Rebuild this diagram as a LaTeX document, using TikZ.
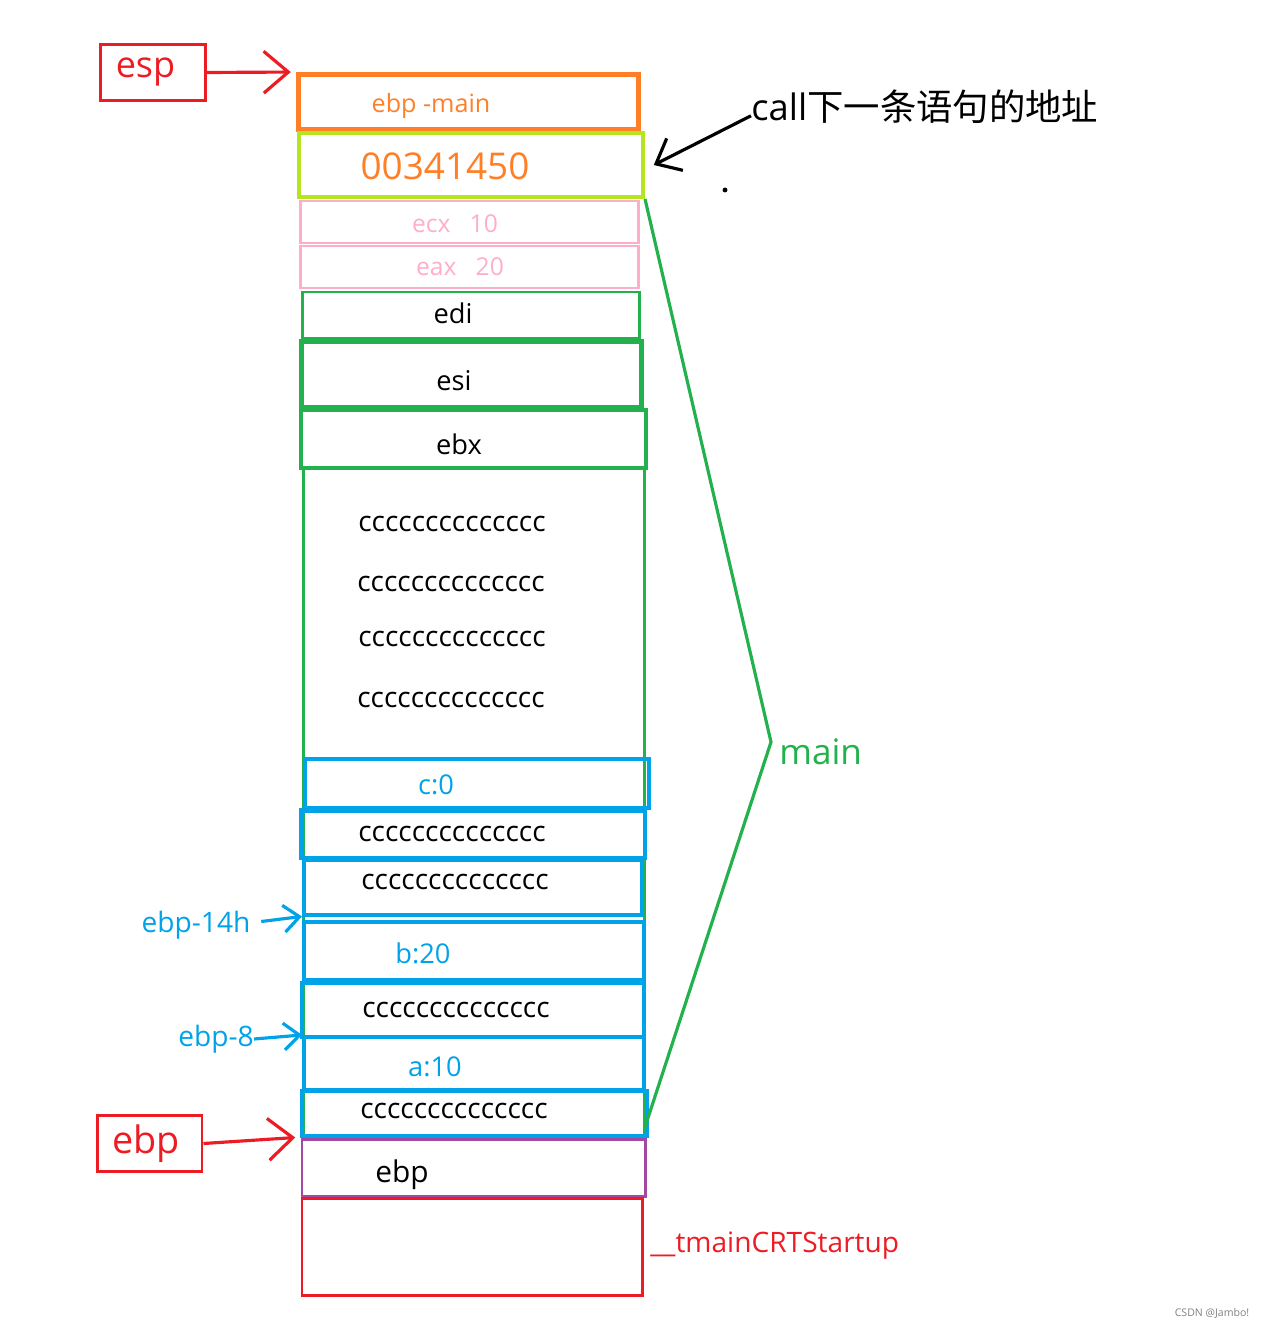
\documentclass[tikz,border=0pt]{standalone}
\usepackage{fontspec}
\setmainfont{Open Sans}
\newfontfamily\cjk{Noto Sans CJK SC}
\usetikzlibrary{arrows.meta,fit}

\definecolor{pred}{RGB}{237,28,36}
\definecolor{porange}{RGB}{255,127,39}
\definecolor{plime}{RGB}{181,230,29}
\definecolor{ppink}{RGB}{255,174,201}
\definecolor{pgreen}{RGB}{34,177,76}
\definecolor{pblue}{RGB}{0,162,232}
\definecolor{ppurple}{RGB}{163,73,164}

\newcommand{\fsz}[1]{\fontsize{#1}{#1}\selectfont}

\begin{document}
\begin{tikzpicture}[x=0.02cm, y=-0.02cm,
  cell/.style={draw, inner sep=0pt, fit={#1}},
  txt/.style={inner sep=0pt, font=\fsz{16}},
  regbox/.style={draw=pred, line width=1.7pt, pred, minimum width=2.1cm,
    minimum height=1.12cm, inner sep=0pt},
  barb/.style={-{Straight Barb[length=#1, width=1.7*#1]}, line width=1.8pt}]

\useasboundingbox (0,0) rectangle (1267,1327);

% Stack frame cells
\node[cell={(298.5,74.5) (638.5,129.5)}, porange, line width=2.8pt] (ebpmain) {};
\node[cell={(299,133) (643,197)}, plime, line width=2.3pt] (addr) {};
\node[cell={(300.5,201) (638.5,243)}, ppink, line width=1.7pt] (ecx) {};
\node[cell={(300.5,246) (638.5,288)}, ppink, line width=1.7pt] (eax) {};
\node[cell={(302.5,292) (639.5,338)}, pgreen, line width=1.7pt] (edi) {};
\node[cell={(301.5,341.5) (641.5,407.5)}, pgreen, line width=2.8pt] (esi) {};
\node[cell={(301,410) (646,468)}, pgreen, line width=2.3pt] (ebx) {};
\node[cell={(303.5,468) (644.5,1138)}, pgreen, line width=1.8pt] (locals) {};

% Local variables
\node[cell={(305,759) (649,808)}, pblue, line width=2.3pt] (cvar) {};
\node[cell={(301.5,810.5) (645,858)}, pblue, line width=2.8pt] (pad1) {};
\node[cell={(304,860) (642,915)}, pblue, line width=2.3pt] (pad2) {};
\node[cell={(304,922) (644,980)}, pblue, line width=2.3pt] (bvar) {};
\node[cell={(302,983) (644,1037)}, pblue, line width=2.3pt] (pad3) {};
\node[cell={(304,1037) (644,1090)}, pblue, line width=2.3pt] (avar) {};
\node[cell={(302,1091) (647,1136)}, pblue, line width=2.3pt] (pad4) {};
\node[cell={(302,1139) (645,1196)}, ppurple, line width=1.7pt] (oldebp) {};
\node[cell={(302,1198) (642,1295)}, pred, line width=1.7pt] (caller) {};

% Cell texts
\node[txt, porange, font=\fsz{14.3}] (ebpmaintxt) at (431,106) {ebp -main};
\node[txt, porange, font=\fsz{21}] (addrtxt) at (445,166) {00341450};
\node[txt, ppink, font=\fsz{14}] (ecxtxt) at (455,224) {ecx\ \ \ 10};
\node[txt, ppink, font=\fsz{14}] (eaxtxt) at (460,267) {eax\ \ \ 20};
\node[txt, font=\fsz{15.5}] (editxt) at (453,313) {edi};
\node[txt, font=\fsz{15.5}] (esitxt) at (454,381) {esi};
\node[txt, font=\fsz{15.5}] (ebxtxt) at (459,444) {ebx};
\node[txt] (cc1) at (452,524) {cccccccccccccc};
\node[txt] (cc2) at (451,584) {cccccccccccccc};
\node[txt] (cc3) at (452,639) {cccccccccccccc};
\node[txt] (cc4) at (451,700) {cccccccccccccc};
\node[txt, pblue, font=\fsz{15.5}] (ctxt) at (436,785) {c:0};
\node[txt] (cc5) at (452,834) {cccccccccccccc};
\node[txt] (cc6) at (455,882) {cccccccccccccc};
\node[txt, pblue, font=\fsz{15.5}] (btxt) at (423,953) {b:20};
\node[txt] (cc7) at (456,1010) {cccccccccccccc};
\node[txt, pblue, font=\fsz{15.5}] (atxt) at (435,1067) {a:10};
\node[txt] (cc8) at (454,1111) {cccccccccccccc};
\node[txt, font=\fsz{17}] (oldebptxt) at (402,1175) {ebp};

% Registers
\node[regbox, font=\fsz{20.5}] (espbox) at (153,72.5) {esp\kern0.3cm};
\node[regbox, font=\fsz{21.5}] (ebpbox) at (149.5,1143.5) {ebp\kern0.15cm};
\draw[barb=14pt, pred] (espbox.east) -- ([xshift=-3pt]ebpmain.north west);
\draw[barb=14pt, pred] (ebpbox.east) -- ([xshift=-3pt]oldebp.north west);

% Offsets from ebp
\node[txt, pblue] (off14) at (196,925) {ebp-14h};
\node[txt, pblue] (off8) at (216,1039) {ebp-8};
\draw[barb=9pt, pblue] ([xshift=6pt,yshift=2pt]off14.east) -- ([yshift=2pt]bvar.north west);
\draw[barb=9pt, pblue] (off8.east) -- (avar.north west);

% Return address note
\node[txt, anchor=west, font=\fsz{20.7}] (calltxt) at (751,107) {call{\cjk 下一条语句的地址}};
\draw[barb=12pt] ([yshift=-5pt]calltxt.west) -- ([xshift=5pt]addr.east);
\fill (725,190) circle (1.4pt);

% main frame bracket
\coordinate (tip) at (771,742);
\coordinate (lowend) at (645,1127);
\draw[pgreen, line width=1.8pt] (addr.south east) -- (tip) -- (lowend);
\node[txt, pgreen, anchor=west, font=\fsz{20}] (maintxt) at (779,752) {main};

\node[txt, pred, anchor=west] (crttxt) at (650,1246) {\_\_tmainCRTStartup};

\node[txt, gray, font=\fsz{6}] (mark) at (1212,1313) {CSDN @Jambo!};

\end{tikzpicture}
\end{document}
